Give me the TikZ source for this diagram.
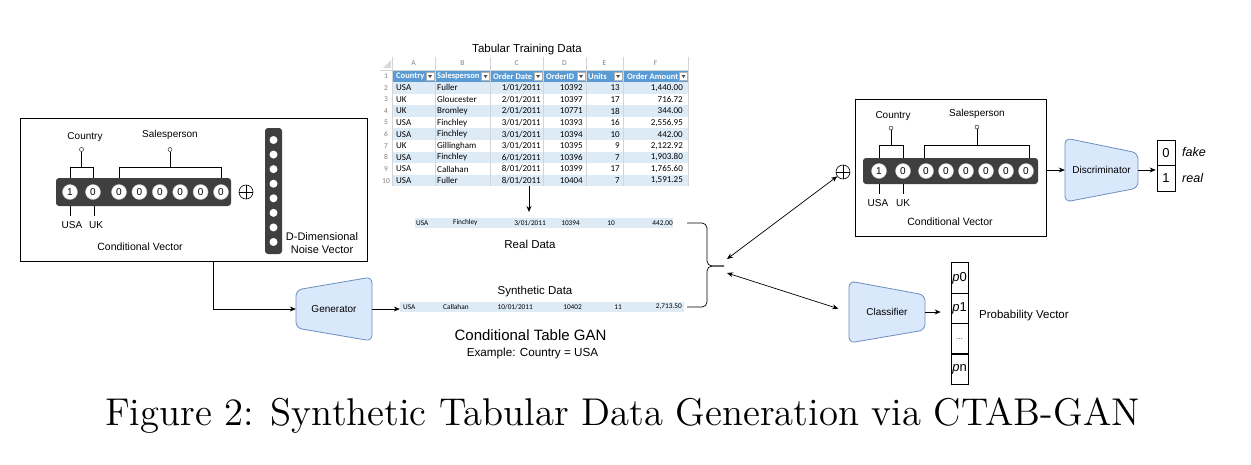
\documentclass[tikz,border=0pt]{standalone}
\usepackage{fontspec}
\newfontfamily\lsans{Liberation Sans}
\newfontfamily\carl{Carlito}
\newfontfamily\capfont{lmroman12-regular.otf}
\usetikzlibrary{arrows.meta}
\definecolor{netfill}{HTML}{DAE8FC}
\definecolor{netline}{HTML}{6C8EBF}
\definecolor{bardark}{HTML}{3F3F3F}
\definecolor{hdrblue}{HTML}{5B9BD5}
\definecolor{rowblue}{HTML}{DDEBF7}
\definecolor{gridgray}{HTML}{D4D4D4}
\definecolor{idxgray}{HTML}{808080}

\tikzset{
  lbl/.style={font=\lsans\fontsize{10}{12}\selectfont, inner sep=0},
  bit/.style={circle, fill=white, draw=gray!50, line width=0.4, minimum size=15, inner sep=0, font=\lsans\fontsize{10}{12}\selectfont},
  net/.style={fill=netfill, draw=netline, line width=0.8, rounded corners=6},
  arr/.style={-{Stealth[length=6pt,width=5pt]}, line width=0.7},
  darr/.style={{Stealth[length=6pt,width=5pt]}-{Stealth[length=6pt,width=5pt]}, line width=0.7},
  tab/.style={font=\carl\fontsize{9}{10}\selectfont, inner sep=0},
  rowtxt/.style={font=\carl\fontsize{7.3}{8}\selectfont, inner sep=0},
  hdr/.style={tab, anchor=west, text=white, font=\carl\bfseries\fontsize{8.5}{9}\selectfont},
  cell/.style={draw, line width=0.6, minimum width=18, minimum height=25.5, inner sep=0, font=\lsans\fontsize{13}{15}\selectfont},
  pcell/.style={draw, line width=0.6, minimum width=17, minimum height=30.5, inner sep=0, font=\lsans\fontsize{13}{15}\selectfont},
}

% one row of the spreadsheet
\newcommand{\trow}[7]{%
  \ifodd#1\else\fill[rowblue] (392,{58.8+11.6*#1}) rectangle (688,{70.4+11.6*#1});\fi
  \node[tab, text=idxgray, font=\carl\fontsize{7.5}{9}\selectfont] at (386,{64.6+11.6*#1}) {#1};
  \node[tab, anchor=west] at (396,{64.6+11.6*#1}) {#2};
  \node[tab, anchor=west] at (437,{64.6+11.6*#1}) {#3};
  \node[tab, anchor=east] at (541,{64.6+11.6*#1}) {#4};
  \node[tab, anchor=east] at (583,{64.6+11.6*#1}) {#5};
  \node[tab, anchor=east] at (620,{64.6+11.6*#1}) {#6};
  \node[tab, anchor=east] at (683,{64.6+11.6*#1}) {#7};
}

\begin{document}
\begin{tikzpicture}[x=1pt,y=-1pt]
\fill[white] (0,0) rectangle (1251,464);
\useasboundingbox (0,0) rectangle (1251,464);

% left conditional vector + noise
\node[draw, line width=0.8, minimum width=347, minimum height=143, anchor=north west, inner sep=0] (lbox) at (20,118) {};
\fill[bardark, rounded corners=3] (56,178) rectangle (231,206);
\foreach \xb/\v [count=\i] in {70/1, 93/0, 119/0, 139.4/0, 159.8/0, 180.2/0, 200.6/0, 221/0}
  \node[bit] (lb\i) at (\xb,192) {\v};
\draw (70,178) -- (70,167) -- (93,167) -- (93,178);
\draw (81.5,167) -- (81.5,151.5);
\draw[fill=white] (81.5,149.5) circle (2pt);
\draw (119,178) -- (119,167) -- (221,167) -- (221,178);
\draw (170,167) -- (170,151.5);
\draw[fill=white] (170,149.5) circle (2pt);
\node[lbl] (lcountry) at (85,137) {Country};
\node[lbl] (lsales) at (170,135) {Salesperson};
\draw (70,206) -- (70,216);
\draw (94,206) -- (94,216);
\node[lbl] (lusa) at (72,225) {USA};
\node[lbl] (luk) at (96,225) {UK};
\node[lbl, font=\lsans\fontsize{10.5}{12}\selectfont] (lcv) at (140,247) {Conditional Vector};
\node[circle, draw, line width=0.6, minimum size=14, inner sep=0] (lplus) at (246,192) {};
\draw[line width=0.6] (lplus.north) -- (lplus.south) (lplus.west) -- (lplus.east);
\fill[bardark, rounded corners=3] (265,128) rectangle (282,254);
\foreach \i in {0,...,7}
  \fill[white] (273.5,{140+14.57*\i}) circle (4pt);
\node[lbl, align=center, font=\lsans\fontsize{11}{12.5}\selectfont] (noise) at (322,243) {D-Dimensional\\Noise Vector};

% generator
\draw[net] (296,290) -- (372,277) -- (372,341) -- (296,328) -- cycle;
\node[lbl, minimum width=76, minimum height=38] (gen) at (334,309) {Generator};
\draw[arr] (lbox.south west) ++(193,0) |- (gen.west);

% training table
\node[lbl, font=\lsans\fontsize{11.5}{13}\selectfont] (tabtitle) at (527,50) {Tabular Training Data};
\fill[gray!30] (383,68) -- (391,68) -- (391,60) -- cycle;
\foreach \xc/\lt in {413.5/A, 462.5/B, 516.5/C, 564.5/D, 604.5/E, 655.5/F}
  \node[tab, text=idxgray, font=\carl\fontsize{7.5}{9}\selectfont] at (\xc,63.5) {\lt};
\fill[hdrblue] (392,70.4) rectangle (688,82);
\node[tab, text=idxgray, font=\carl\fontsize{7.5}{9}\selectfont] at (386,76.2) {1};
\foreach \xh/\hd in {396/Country, 437/Salesperson, 493/Order Date, 546/OrderID, 588/Units}
  \node[hdr] at (\xh,76.2) {\hd};
\begin{scope}
  \clip (624,70.4) rectangle (678,82);
  \node[hdr] at (627,76.2) {Order Amount};
\end{scope}
\foreach \xd in {430,485.5,538,581,618,683.5} {
  \draw[fill=white, draw=gray!60, line width=0.3] (\xd-4,72.5) rectangle (\xd+4,80);
  \fill[black!70] (\xd-2,75) -- (\xd+2,75) -- (\xd,78) -- cycle;
}
\trow{2}{USA}{Fuller}{1/01/2011}{10392}{13}{1,440.00}
\trow{3}{UK}{Gloucester}{2/01/2011}{10397}{17}{716.72}
\trow{4}{UK}{Bromley}{2/01/2011}{10771}{18}{344.00}
\trow{5}{USA}{Finchley}{3/01/2011}{10393}{16}{2,556.95}
\trow{6}{USA}{Finchley}{3/01/2011}{10394}{10}{442.00}
\trow{7}{UK}{Gillingham}{3/01/2011}{10395}{9}{2,122.92}
\trow{8}{USA}{Finchley}{6/01/2011}{10396}{7}{1,903.80}
\trow{9}{USA}{Callahan}{8/01/2011}{10399}{17}{1,765.60}
\trow{10}{USA}{Fuller}{8/01/2011}{10404}{7}{1,591.25}
\foreach \xg in {392,435,490,543,586,623,688}
  \draw[gridgray, line width=0.4] (\xg,57) -- (\xg,186);
\draw[gridgray, line width=0.4] (380,70.4) -- (688,70.4);
\coordinate (tabbot) at (529,186);

% real row
\node[fill=rowblue, minimum width=258, minimum height=10, inner sep=0] (real) at (544,223) {};
\node[rowtxt, anchor=west] at (416,223) {USA};
\node[rowtxt, anchor=west] at (453,223) {Finchley};
\node[rowtxt, anchor=east] at (546,223) {3/01/2011};
\node[rowtxt, anchor=east] at (580,223) {10394};
\node[rowtxt, anchor=east] at (615,223) {10};
\node[rowtxt, anchor=east] at (673,223) {442.00};
\coordinate (realtop) at (529,212);
\draw[arr] (tabbot) -- (realtop);
\node[lbl, font=\lsans\fontsize{11.5}{13}\selectfont] (reallbl) at (530,244) {Real Data};

% synthetic row
\node[lbl, font=\lsans\fontsize{11.5}{13}\selectfont] (synlbl) at (535,292) {Synthetic Data};
\node[fill=rowblue, minimum width=284, minimum height=10, inner sep=0] (synth) at (542,307) {};
\node[rowtxt, anchor=west] at (403,307) {USA};
\node[rowtxt, anchor=west] at (443,307) {Callahan};
\node[rowtxt, anchor=east] at (533,307) {10/01/2011};
\node[rowtxt, anchor=east] at (582,307) {10402};
\node[rowtxt, anchor=east] at (622,307) {11};
\node[rowtxt, anchor=east] at (682,307) {2,713.50};
\draw[arr] (gen.east) -- (gen.east -| synth.west);

\node[lbl, font=\lsans\fontsize{15}{17}\selectfont] (ctgan) at (530.5,335) {Conditional Table GAN};
\node[lbl, font=\lsans\fontsize{11.7}{13}\selectfont] (example) at (532.5,353) {Example: Country = USA};

% brace
\coordinate (bracetip) at (724,266);
\draw[rounded corners=5, line width=0.7] (687,223) -| (707,266) -- (bracetip);
\draw[rounded corners=5, line width=0.7] (687,307) -| (707,266) -- (bracetip);
\coordinate (b1) at (727,259);
\coordinate (b2) at (727,273);

% right conditional vector
\node[draw, line width=0.8, minimum width=191, minimum height=137, anchor=north west, inner sep=0] (rbox) at (855,99) {};
\fill[bardark, rounded corners=3] (863,158) rectangle (1038,184);
\foreach \xb/\v [count=\i] in {879/1, 903/0, 926/0, 946/0, 966/0, 986/0, 1006/0, 1026/0}
  \node[bit] (rb\i) at (\xb,171) {\v};
\draw (879,158) -- (879,145) -- (903,145) -- (903,158);
\draw (891,145) -- (891,130);
\draw[fill=white] (891,128) circle (2pt);
\draw (924,158) -- (924,145) -- (1029,145) -- (1029,158);
\draw (977,145) -- (977,129);
\draw[fill=white] (977,127) circle (2pt);
\node[lbl] (rcountry) at (893,116) {Country};
\node[lbl] (rsales) at (977,114) {Salesperson};
\draw (879,184) -- (879,194);
\draw (903,184) -- (903,194);
\node[lbl] (rusa) at (878,203) {USA};
\node[lbl] (ruk) at (903,203) {UK};
\node[lbl, font=\lsans\fontsize{10.5}{12}\selectfont] (rcv) at (950,222) {Conditional Vector};
\node[circle, draw, line width=0.6, minimum size=14, inner sep=0] (rplus) at (843,172) {};
\draw[line width=0.6] (rplus.north) -- (rplus.south) (rplus.west) -- (rplus.east);

% discriminator
\draw[net] (1065,138) -- (1138,153) -- (1138,188) -- (1065,202) -- cycle;
\node[lbl, minimum width=73, minimum height=35] (disc) at (1101.5,170) {Discriminator};
\draw[arr] (rbox.east |- disc.west) -- (disc.west);
\node[cell] (o0) at (1166,153) {0};
\node[cell] (o1) at (1166,178.5) {1};
\node[lbl, anchor=west, font=\lsans\itshape\fontsize{12.5}{15}\selectfont] (fake) at (1182,152) {fake};
\node[lbl, anchor=west, font=\lsans\itshape\fontsize{12.5}{15}\selectfont] (reallab) at (1182,178) {real};
\draw[arr, shorten >=1pt] (disc.east) -- (disc.east -| o1.west);

% classifier
\draw[net] (849,281) -- (925,295) -- (925,330) -- (849,343) -- cycle;
\node[lbl, minimum width=76, minimum height=35] (clf) at (887,312) {Classifier};
\node[pcell] (p0) at (959.5,278) {\textit{p}0};
\node[pcell] (p1) at (959.5,308.5) {\textit{p}1};
\node[pcell, font=\lsans\fontsize{8}{10}\selectfont, text=black!70] (pd) at (959.5,339) {...};
\node[pcell] (pn) at (959.5,369) {\textit{p}n};
\node[lbl, anchor=west, font=\lsans\fontsize{11.5}{13}\selectfont] (probvec) at (979,316) {Probability Vector};
\draw[arr, shorten >=10pt] (clf.east) -- (clf.east -| p1.west);

% brace to discriminator / classifier
\draw[darr] (b1) -- (rplus);
\draw[darr, shorten >=11pt] (b2) -- (clf.west);

% caption
\node[font=\capfont\fontsize{38.7}{44}\selectfont, anchor=base, inner sep=0] (cap) at (622.5,425) {Figure 2: Synthetic Tabular Data Generation via CTAB-GAN};
\end{tikzpicture}
\end{document}
